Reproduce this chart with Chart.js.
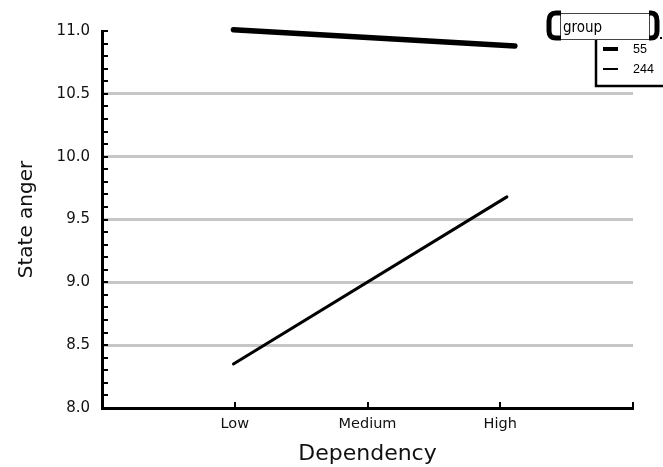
<!DOCTYPE html>
<html>
<head>
<meta charset="utf-8">
<script src="https://cdn.jsdelivr.net/npm/chart.js@4/dist/chart.umd.min.js"></script>
<style>
  html, body { margin: 0; padding: 0; background: #fff; }
  #wrap { width: 663px; height: 467px; }
</style>
</head>
<body>
<div id="wrap"><canvas id="c" width="663" height="467"></canvas></div>
<script>
// ---- data ----
const categories = ['Low', 'Medium', 'High'];
const categoryPositions = [1, 2, 3];
const groupLabels = ['55', '244'];
const group55X = [0.99, 3.11];
const group55Y = [11.01, 10.88];
const group244X = [0.99, 3.05];
const group244Y = [8.35, 9.68];
const yMin = 8.0, yMax = 11.0, yMinorStep = 0.1, yMajorStep = 0.5;
const xAxisTitle = 'Dependency';
const yAxisTitle = 'State anger';
const legendTitle = 'group';

function toPoints(xs, ys) { return xs.map((v, i) => ({ x: v, y: ys[i] })); }

const isMajor = v => Math.abs(Math.round(v / yMajorStep) * yMajorStep - v) < 1e-6;
const FONT = '"DejaVu Sans", "Liberation Sans", sans-serif';

const extrasPlugin = {
  id: 'extras',
  afterDraw(chart) {
    const { ctx, scales: { x, y } } = chart;
    ctx.save();
    ctx.strokeStyle = '#000';
    ctx.lineWidth = 2;
    // inward y ticks
    y.ticks.forEach(t => {
      const py = Math.round(y.getPixelForValue(t.value));
      ctx.beginPath();
      ctx.moveTo(x.left, py);
      ctx.lineTo(x.left + 6, py);
      ctx.stroke();
    });
    // inward x ticks
    x.ticks.forEach(t => {
      if (t.value < 1) return;
      const px = Math.round(x.getPixelForValue(t.value));
      ctx.beginPath();
      ctx.moveTo(px, y.bottom);
      ctx.lineTo(px, y.bottom - 6);
      ctx.stroke();
    });

    // legend
    const ds = chart.data.datasets;
    ctx.fillStyle = '#fff';
    ctx.fillRect(560, 13, 90, 27);
    ctx.strokeStyle = '#444';
    ctx.lineWidth = 1;
    ctx.strokeRect(560.5, 13.5, 89, 26);
    // brackets
    ctx.strokeStyle = '#000';
    ctx.lineWidth = 5;
    ctx.lineCap = 'butt';
    ctx.beginPath();
    ctx.moveTo(561, 13);
    ctx.lineTo(556, 13);
    ctx.quadraticCurveTo(549, 13, 549, 21);
    ctx.lineTo(549, 31);
    ctx.quadraticCurveTo(549, 38, 556, 38);
    ctx.lineTo(561, 38);
    ctx.stroke();
    ctx.beginPath();
    ctx.moveTo(649, 13);
    ctx.lineTo(651, 13);
    ctx.quadraticCurveTo(657, 13, 657, 21);
    ctx.lineTo(657, 31);
    ctx.quadraticCurveTo(657, 38, 651, 38);
    ctx.lineTo(649, 38);
    ctx.stroke();
    ctx.fillStyle = '#000';
    ctx.fillRect(660, 37, 2, 2);
    ctx.font = '15px "DejaVu Sans Condensed", "Liberation Sans Narrow", sans-serif';
    ctx.textBaseline = 'alphabetic';
    ctx.textAlign = 'left';
    ctx.fillText(legendTitle, 563, 32);
    // entries box
    ctx.lineWidth = 2.5;
    ctx.beginPath();
    ctx.moveTo(596, 40);
    ctx.lineTo(596, 86);
    ctx.lineTo(663, 86);
    ctx.stroke();
    ctx.font = '12.5px "Liberation Sans", Arial, sans-serif';
    ctx.textBaseline = 'middle';
    const rowsY = [49, 69];
    ds.forEach((d, i) => {
      ctx.lineWidth = d.legendWidth;
      ctx.beginPath();
      ctx.moveTo(603, rowsY[i]);
      ctx.lineTo(618, rowsY[i]);
      ctx.stroke();
      ctx.fillText(d.label, 633, rowsY[i] + 1);
    });
    ctx.restore();
  }
};

new Chart(document.getElementById('c'), {
  type: 'line',
  data: {
    datasets: [
      { label: groupLabels[0], data: toPoints(group55X, group55Y), borderColor: '#000', borderWidth: 5.5,
        borderCapStyle: 'round', pointRadius: 0, clip: false, legendWidth: 4 },
      { label: groupLabels[1], data: toPoints(group244X, group244Y), borderColor: '#000', borderWidth: 3,
        borderCapStyle: 'round', pointRadius: 0, clip: false, legendWidth: 2 }
    ]
  },
  options: {
    responsive: false,
    animation: false,
    events: [],
    layout: { padding: { top: 31, right: 30, left: 0, bottom: 0 } },
    plugins: { legend: { display: false }, tooltip: { enabled: false } },
    scales: {
      x: {
        type: 'linear', min: 0, max: 4,
        afterFit(s) { s.height = 59; },
        ticks: {
          stepSize: 1, autoSkip: false, maxRotation: 0, padding: 8,
          color: '#111',
          font: { family: FONT, size: 14.5 },
          callback(v) { const i = categoryPositions.indexOf(v); return i >= 0 ? categories[i] : ''; }
        },
        grid: { display: false, drawTicks: false },
        border: { display: true, color: '#000', width: 3 },
        title: { display: true, text: xAxisTitle, color: '#111', padding: 0,
          font: { family: FONT, size: 22 } }
      },
      y: {
        type: 'linear', min: yMin, max: yMax,
        afterFit(s) { s.width = 102; },
        ticks: {
          stepSize: yMinorStep, autoSkip: false, padding: 12,
          color: '#111',
          font: { family: FONT, size: 15 },
          callback(v) { return isMajor(v) ? v.toFixed(1) : ''; }
        },
        grid: {
          drawTicks: false,
          lineWidth: 3,
          color(c) {
            const v = c.tick ? c.tick.value : null;
            if (v === null) return 'rgba(0,0,0,0)';
            if (isMajor(v) && v > yMin + 1e-6 && v < yMax - 1e-6) return '#c6c6c6';
            return 'rgba(0,0,0,0)';
          }
        },
        border: { display: true, color: '#000', width: 3 },
        title: { display: true, text: yAxisTitle, color: '#111', padding: 15,
          font: { family: FONT, size: 20 } }
      }
    }
  },
  plugins: [extrasPlugin]
});
</script>
</body>
</html>
